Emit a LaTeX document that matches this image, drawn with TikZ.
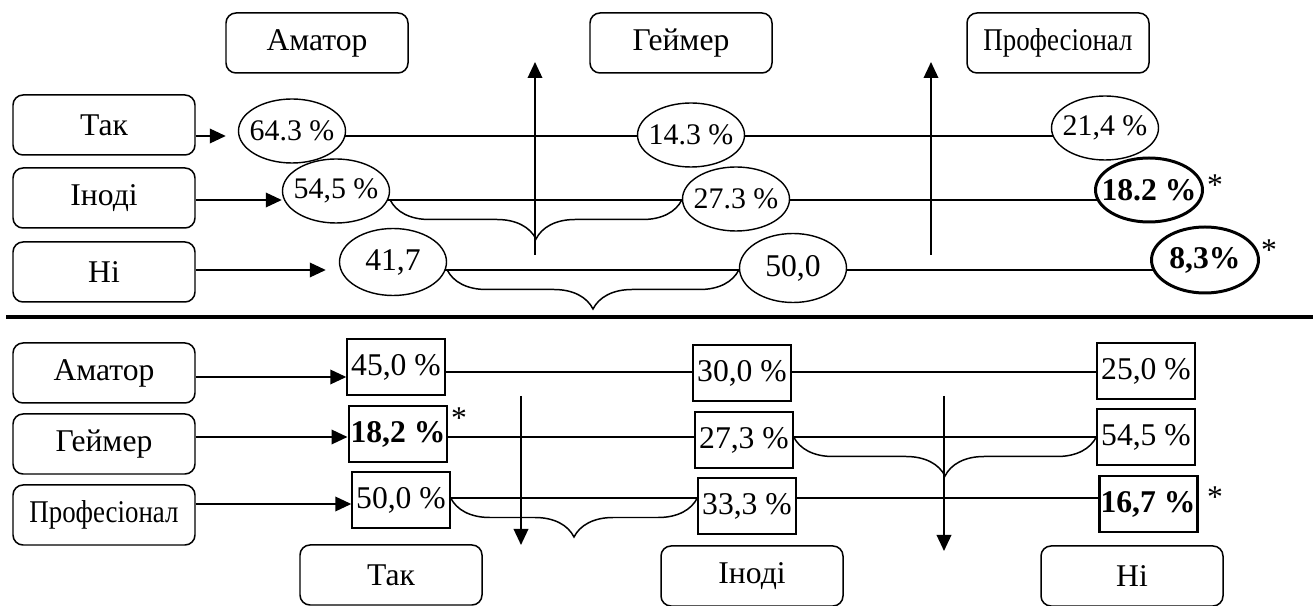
\documentclass[tikz,border=0pt]{standalone}
\usepackage{fontspec}
\setmainfont{Liberation Serif}
\usepackage{graphicx}
\usepackage{tikz}
\usetikzlibrary{arrows.meta,backgrounds}
\usetikzlibrary{shapes}
\usetikzlibrary{decorations,decorations.pathreplacing}
\tikzstyle{category}=[draw, rounded corners=2mm, minimum width=36.4mm, minimum height=12mm, inner sep=0pt, line width=0.85pt]
\tikzstyle{oval}=[ellipse, draw, fill=white, minimum width=21.4mm, minimum height=12.8mm, inner xsep=-5pt, inner ysep=0pt, line width=0.8pt, font=\fontsize{17}{19}\selectfont]
\tikzstyle{cell}=[draw, fill=white, minimum width=19.6mm, minimum height=11.2mm, inner sep=0pt, line width=0.8pt]
\tikzstyle{marked}=[line width=1.7pt, inner xsep=-6pt, font=\fontsize{18}{20}\selectfont\bfseries]
\tikzstyle{row}=[line width=0.85pt]
\tikzstyle{feed}=[line width=1.1pt, -{Triangle[length=3.2mm,width=2.9mm]}]
\tikzstyle{curly}=[line width=0.85pt, decorate, decoration={brace, mirror, amplitude=7.8mm}]
\tikzstyle{pixels}=[x=0.2mm, y=-0.2mm, font=\fontsize{18}{20}\selectfont]
\newcommand{\narrow}[1]{\scalebox{0.85}[1]{#1}}

\begin{document}
\begin{tikzpicture}[pixels]
	\useasboundingbox (0,0) rectangle (1313,606);
	\node[category] (hAm) at (317,43) {Аматор};
	\node[category] (hGe) at (681,43) {Геймер};
	\node[category] (hPr) at (1058,43) {\narrow{Професіонал}};
	\node[category] (lTak) at (104,125) {Так};
	\node[category] (lInodi) at (104,198) {Іноді};
	\node[category] (lNi) at (104,272) {Ні};
	\node[oval] (e11) at (292,131) {64.3 \%};
	\node[oval] (e12) at (691,135) {14.3 \%};
	\node[oval] (e13) at (1105,128) {21,4 \%};
	\node[oval] (e21) at (336,191) {54,5 \%};
	\node[oval] (e22) at (736,199) {27.3 \%};
	\node[oval, marked] (e23) at (1149,190) {18.2 \%};
	\node[oval, minimum height=13.4mm, font=\fontsize{18}{20}\selectfont] (e31) at (393,262) {41,7};
	\node[oval, minimum height=13.8mm, font=\fontsize{18}{20}\selectfont] (e32) at (793,268) {50,0};
	\node[oval, marked, minimum height=13.2mm] (e33) at (1205,260) {8,3\%};
	\node (st23) at (1215,185) {*};
	\node (st33) at (1269,250) {*};
	\coordinate (yTak) at (0,136);
	\coordinate (yInodi) at (0,200);
	\coordinate (yNi) at (0,270);
	\begin{scope}[on background layer]
		\draw[row] (e11 |- yTak) -- (e13 |- yTak);
		\draw[row] (e21 |- yInodi) -- (e23 |- yInodi);
		\draw[row] (e31 |- yNi) -- (e33 |- yNi);
	\end{scope}
	\draw[feed, shorten >=2.4mm] (lTak.east |- yTak) -- (e11.west |- yTak);
	\draw[feed] (lInodi.east |- yInodi) -- (e21.west |- yInodi);
	\draw[feed, shorten >=2.6mm] (lNi.east |- yNi) -- (e31.west |- yNi);
	\draw[curly] (e21.east |- yInodi) -- (e22.west |- yInodi);
	\draw[curly] (e31.east |- yNi) -- (e32.west |- yNi);
	\coordinate (upA0) at (535,255);
	\coordinate (upA1) at (535,62);
	\coordinate (upB0) at (931,255);
	\coordinate (upB1) at (931,62);
	\draw[feed] (upA0) -- (upA1);
	\draw[feed] (upB0) -- (upB1);
	\draw[line width=2.3pt] (6,317) -- (1313,317);
	\node[category] (lAm) at (104,373) {Аматор};
	\node[category] (lGe) at (104,444) {Геймер};
	\node[category] (lPr) at (104,515) {\narrow{Професіонал}};
	\node[cell] (b11) at (396,367) {45,0 \%};
	\node[cell] (b12) at (742,373) {30,0 \%};
	\node[cell] (b13) at (1146,371) {25,0 \%};
	\node[cell, marked] (b21) at (398,434) {18,2 \%};
	\node[cell] (b22) at (744,440) {27,3 \%};
	\node[cell] (b23) at (1146,437) {54,5 \%};
	\node[cell] (b31) at (401,500) {50,0 \%};
	\node[cell] (b32) at (747,506) {33,3 \%};
	\node[cell, marked] (b33) at (1148,504) {16,7 \%};
	\node (st21) at (459,418) {*};
	\node (st33b) at (1215,497) {*};
	\coordinate (yAm) at (0,372);
	\coordinate (yGe) at (0,437);
	\coordinate (yPr) at (0,498);
	\coordinate (aAm) at (0,377);
	\coordinate (aPr) at (0,504);
	\begin{scope}[on background layer]
		\draw[row] (b11 |- yAm) -- (b13 |- yAm);
		\draw[row] (b21 |- yGe) -- (b23 |- yGe);
		\draw[row] (b31 |- yPr) -- (b33 |- yPr);
	\end{scope}
	\draw[feed] (lAm.east |- aAm) -- (b11.west |- aAm);
	\draw[feed] (lGe.east |- yGe) -- (b21.west |- yGe);
	\draw[feed] (lPr.east |- aPr) -- (b31.west |- aPr);
	\draw[curly] (b22.east |- yGe) -- (b23.west |- yGe);
	\draw[curly] (b31.east |- yPr) -- (b32.west |- yPr);
	\coordinate (dnA0) at (521,396);
	\coordinate (dnA1) at (521,545);
	\coordinate (dnB0) at (944,396);
	\coordinate (dnB1) at (944,551);
	\draw[feed] (dnA0) -- (dnA1);
	\draw[feed] (dnB0) -- (dnB1);
	\node[category] (fTak) at (391,575) {Так};
	\node[category] (fInodi) at (752,576) {Іноді};
	\node[category] (fNi) at (1132,576) {Ні};
\end{tikzpicture}
\end{document}
